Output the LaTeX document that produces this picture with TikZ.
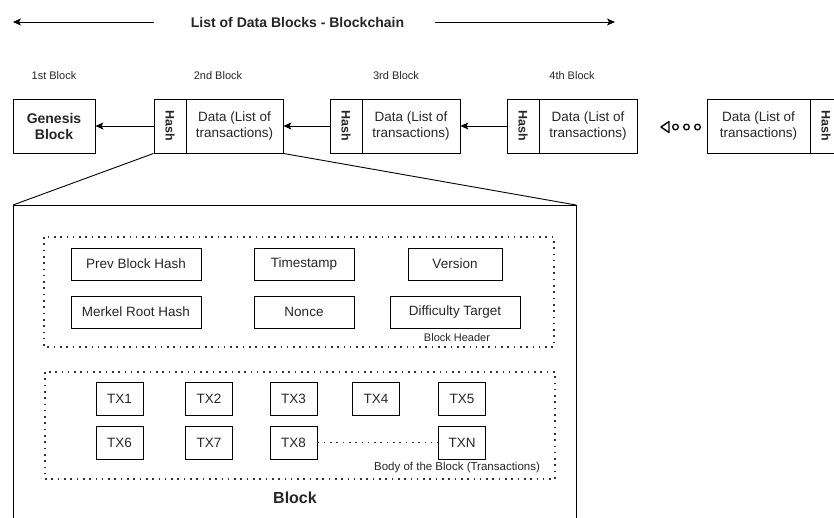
\documentclass[tikz,border=0pt]{standalone}
\usepackage{fontspec}
\setmainfont{Liberation Sans}
\usepackage{graphicx}
\usetikzlibrary{arrows.meta}
\begin{document}
\begin{tikzpicture}[x=1pt,y=-1pt,
  txt/.style={text=black!85, inner sep=0pt},
  fs/.style={font=\fontsize{#1}{#1}\selectfont},
  box/.style={draw, line width=0.9pt, inner sep=0pt, text=black!85, align=center},
  hashbox/.style={box, minimum width=32pt, minimum height=54pt, font=\bfseries\fontsize{12.5}{12.5}\selectfont},
  databox/.style={box, minimum height=54pt, font=\fontsize{13.5}{15.5}\selectfont},
  hdr/.style={box, minimum height=32pt, font=\fontsize{13.5}{13.5}\selectfont},
  tx/.style={box, minimum width=47pt, minimum height=33pt, font=\fontsize{13.5}{13.5}\selectfont},
  dotline/.style={line width=1.6pt, dash pattern=on 1.6pt off 4.7pt, black!80},
  arr/.style={line width=0.9pt, -{Stealth[length=8pt,width=7pt,inset=2pt]}}
]
\useasboundingbox (0,0) rectangle (834,517);
\clip (0,0) rectangle (834,517);

% title
\node[txt, font=\bfseries\fontsize{14}{14}\selectfont] (title) at (297.5,22) {List of Data Blocks - Blockchain};
\coordinate (tl1) at (154,22); \coordinate (tl2) at (13,22);
\coordinate (tr1) at (435,22); \coordinate (tr2) at (615,22);
\draw[arr] (tl1) -- (tl2);
\draw[arr] (tr1) -- (tr2);

% block labels
\node[txt, fs=11] (l1) at (54,76) {1st Block};
\node[txt, fs=11] (l2) at (218,76) {2nd Block};
\node[txt, fs=11] (l3) at (396,76) {3rd Block};
\node[txt, fs=11] (l4) at (572,76) {4th Block};

% chain
\node[box, minimum width=82pt, minimum height=54pt, font=\bfseries\fontsize{14}{16}\selectfont] (gen) at (54,126) {Genesis\\Block};
\node[hashbox] (b2h) at (170,126) {\rotatebox{-90}{Hash}};
\node[databox, minimum width=97pt] (b2d) at (234.5,126) {Data (List of\\transactions)};
\node[hashbox] (b3h) at (346,126) {\rotatebox{-90}{Hash}};
\node[databox, minimum width=98pt] (b3d) at (411,126) {Data (List of\\transactions)};
\node[hashbox] (b4h) at (523,126) {\rotatebox{-90}{Hash}};
\node[databox, minimum width=98pt] (b4d) at (588,126) {Data (List of\\transactions)};
\node[databox, minimum width=103pt] (b5d) at (758.5,126) {Data (List of\\transactions)};
\node[hashbox] (b5h) at (826,126) {\rotatebox{-90}{Hash}};

\draw[arr] (b2h.west) -- (gen.east);
\draw[arr] (b3h.west) -- (b2d.east);
\draw[arr] (b4h.west) -- (b3d.east);

% open triangle + circles
\coordinate (tip) at (661,127);
\draw[line width=1.4pt, line join=round] (tip) -- (669,121.5) -- (669,132.5) -- cycle;
\draw[line width=1.3pt] (675.5,127) circle (2.8);
\draw[line width=1.3pt] (686.5,127) circle (2.8);
\draw[line width=1.3pt] (697.5,127) circle (2.8);

% detail block
\coordinate (dtl) at (13,205); \coordinate (dtr) at (576,205);
\coordinate (dbl) at (13,522); \coordinate (dbr) at (576,522);
\draw[line width=0.9pt] (b2h.south west) -- (dtl);
\draw[line width=0.9pt] (b2d.south east) -- (dtr);
\draw[line width=0.9pt] (dbl) -- (dtl) -- (dtr) -- (dbr);

% header
\coordinate (h1) at (44,237); \coordinate (h2) at (554,347);
\draw[dotline] (h1) rectangle (h2);
\node[hdr, minimum width=130pt] (prev) at (136,264) {Prev Block Hash};
\node[hdr, minimum width=100pt] (ts) at (304,264) {Timestamp};
\node[hdr, minimum width=94pt] (ver) at (455,264) {Version};
\node[hdr, minimum width=130pt] (mrk) at (136,312) {Merkel Root Hash};
\node[hdr, minimum width=100pt] (non) at (304,312) {Nonce};
\node[hdr, minimum width=130pt] (dif) at (455,312) {Difficulty Target};
\node[txt, fs=11] (bh) at (457,338) {Block Header};

% body
\coordinate (t1) at (45,372); \coordinate (t2) at (555,479);
\draw[dotline] (t1) rectangle (t2);
\node[tx] (tx1) at (119.5,398.5) {TX1};
\node[tx] (tx2) at (209,398.5) {TX2};
\node[tx] (tx3) at (293.5,398.5) {TX3};
\node[tx] (tx4) at (376,398.5) {TX4};
\node[tx] (tx5) at (462,398.5) {TX5};
\node[tx] (tx6) at (119.5,442.5) {TX6};
\node[tx] (tx7) at (209,442.5) {TX7};
\node[tx] (tx8) at (293.5,442.5) {TX8};
\node[tx] (txn) at (462,442.5) {TXN};
\draw[dotline] (tx8.east) -- (txn.west);
\node[txt, fs=11.5] (bb) at (457,468) {Body of the Block (Transactions)};
\node[txt, font=\bfseries\fontsize{16}{16}\selectfont] (blk) at (295,498) {Block};
\end{tikzpicture}
\end{document}
